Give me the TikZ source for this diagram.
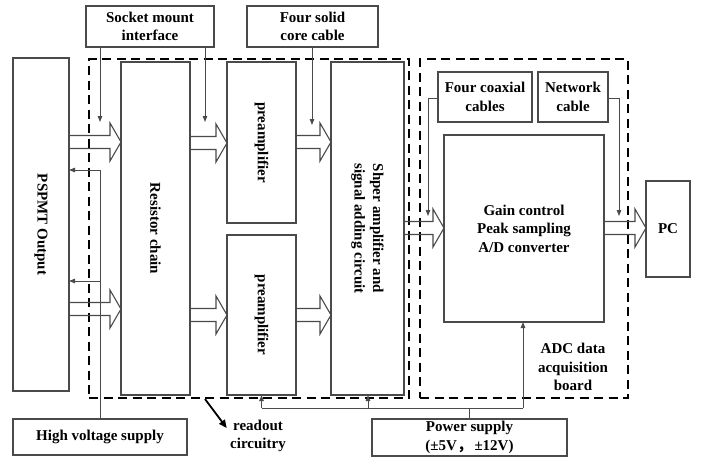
\documentclass[tikz,border=0pt]{standalone}
\usepackage{fontspec}
\setmainfont{Liberation Serif}
\newfontfamily\cjk{Noto Sans CJK SC}
\usetikzlibrary{calc,arrows.meta}
\definecolor{lg}{HTML}{4A4A4A}
\begin{document}
\begin{tikzpicture}[x=1pt,y=-1pt,
  font=\bfseries\fontsize{15pt}{18.5pt}\selectfont,
  box/.style={draw=lg, line width=1.1pt, inner sep=0pt, outer sep=0pt, align=center},
  dbox/.style={draw=black, line width=2.3pt, dash pattern=on 9pt off 5.5pt, inner sep=0pt, outer sep=0pt},
  conn/.style={draw=lg, line width=1pt},
  tip/.style={conn, -{Triangle[length=6pt,width=4.5pt]}},
  hollow/.style={draw=lg, line width=1.1pt, line join=miter},
  vtext/.style={rotate=-90, align=center}
]
\useasboundingbox (0,0) rectangle (708,459);

% dashed groups
\node[dbox, minimum width=320pt, minimum height=339pt] (readout) at (249,228.5) {};
\node[dbox, minimum width=208pt, minimum height=339pt] (board) at (524,228.5) {};

% boxes
\node[box, minimum width=128pt, minimum height=41pt] (sock) at (150,26.5) {Socket mount\\interface};
\node[box, minimum width=131pt, minimum height=41pt] (solid) at (312.5,26.5) {Four solid\\core cable};
\node[box, minimum width=56pt, minimum height=333pt] (pspmt) at (41,224.5) {};
\node[vtext] at (pspmt.center) {PSPMT Output};
\node[box, minimum width=69pt, minimum height=333pt] (res) at (155.5,228.5) {};
\node[vtext] at (res.center) {Resistor chain};
\node[box, minimum width=69pt, minimum height=161pt] (pre1) at (261.5,142.5) {};
\node[vtext] at (pre1.center) {preamplifier};
\node[box, minimum width=69pt, minimum height=160pt] (pre2) at (261.5,315) {};
\node[vtext] at (pre2.center) {preamplifier};
\node[box, minimum width=73pt, minimum height=333pt] (shaper) at (367.5,228.5) {};
\node[vtext] at (shaper.center) {Shper amplifier and\\signal adding circuit};
\node[box, minimum width=94pt, minimum height=50pt] (coax) at (485,97) {Four coaxial\\cables};
\node[box, minimum width=70pt, minimum height=50pt] (net) at (573,97) {Network\\cable};
\node[box, minimum width=160pt, minimum height=187pt] (adc) at (524,228.5) {Gain control\\Peak sampling\\A/D converter};
\node[box, minimum width=44pt, minimum height=96pt] (pc) at (668,229) {PC};
\node[box, minimum width=174pt, minimum height=36pt] (hv) at (100,437) {High voltage supply};
\node[box, minimum width=195pt, minimum height=37pt] (pwr) at (469.5,437.5) {Power supply\\(\raisebox{0pt}{±}5V{\cjk ，}\,±12V)};

\node[align=center] (rolabel) at (258,436) {readout\\circuitry};
\node[align=center] (adclabel) at (573,367) {ADC data\\acquisition\\board};

% hollow arrows
\newcommand\harr[3]{%
  \path (#1.east |- 0,#3) coordinate (ha) (#2.west |- 0,#3) coordinate (hb);
  \draw[hollow] ($(ha)+(0,-6.5)$) -- ($(hb)+(-11,-6.5)$) -- ($(hb)+(-11,-19)$) -- (hb)
     -- ($(hb)+(-11,19)$) -- ($(hb)+(-11,6.5)$) -- ($(ha)+(0,6.5)$);}
\harr{pspmt}{res}{142}
\harr{pspmt}{res}{309}
\harr{res}{pre1}{143}
\harr{res}{pre2}{315}
\harr{pre1}{shaper}{142}
\harr{pre2}{shaper}{315}
\harr{shaper}{adc}{228}
\harr{adc}{pc}{228}

% cable connectors
\coordinate (s1) at (100,122);
\coordinate (s2) at (205,122);
\coordinate (s3) at (312,125);
\draw[tip] (sock.south -| s1) -- (s1);
\draw[tip] (sock.south -| s2) -- (s2);
\draw[tip] (solid.south -| s3) -- (s3);

\coordinate (c1) at (428,98);
\coordinate (c2) at (428,216);
\draw[tip] (coax.west |- c1) -- (c1) -- (c2);
\coordinate (n1) at (619,98);
\coordinate (n2) at (619,216);
\draw[tip] (net.east |- n1) -- (n1) -- (n2);

% high voltage
\coordinate (h1) at (100,170);
\coordinate (h2) at (100,281);
\draw[conn] (hv.north -| h1) -- (h1);
\draw[tip] (h1) -- (pspmt.east |- h1);
\draw[tip] (h2) -- (pspmt.east |- h2);

% power supply
\coordinate (p0) at (469.5,408);
\coordinate (pL) at (261.5,408);
\coordinate (pM) at (368,408);
\coordinate (pR) at (523,408);
\draw[conn] (pwr.north) -- (p0);
\draw[conn] (pL) -- (pR);
\draw[tip] (pL) -- (pre2.south -| pL);
\draw[tip] (pM) -- (shaper.south -| pM);
\draw[tip] (pR) -- (adc.south -| pR);

% readout pointer
\coordinate (r0) at (205,399);
\draw[line width=1.8pt, -{Triangle[length=8pt,width=7pt]}] (r0) -- (rolabel.west |- 0,428) ;
\end{tikzpicture}
\end{document}
